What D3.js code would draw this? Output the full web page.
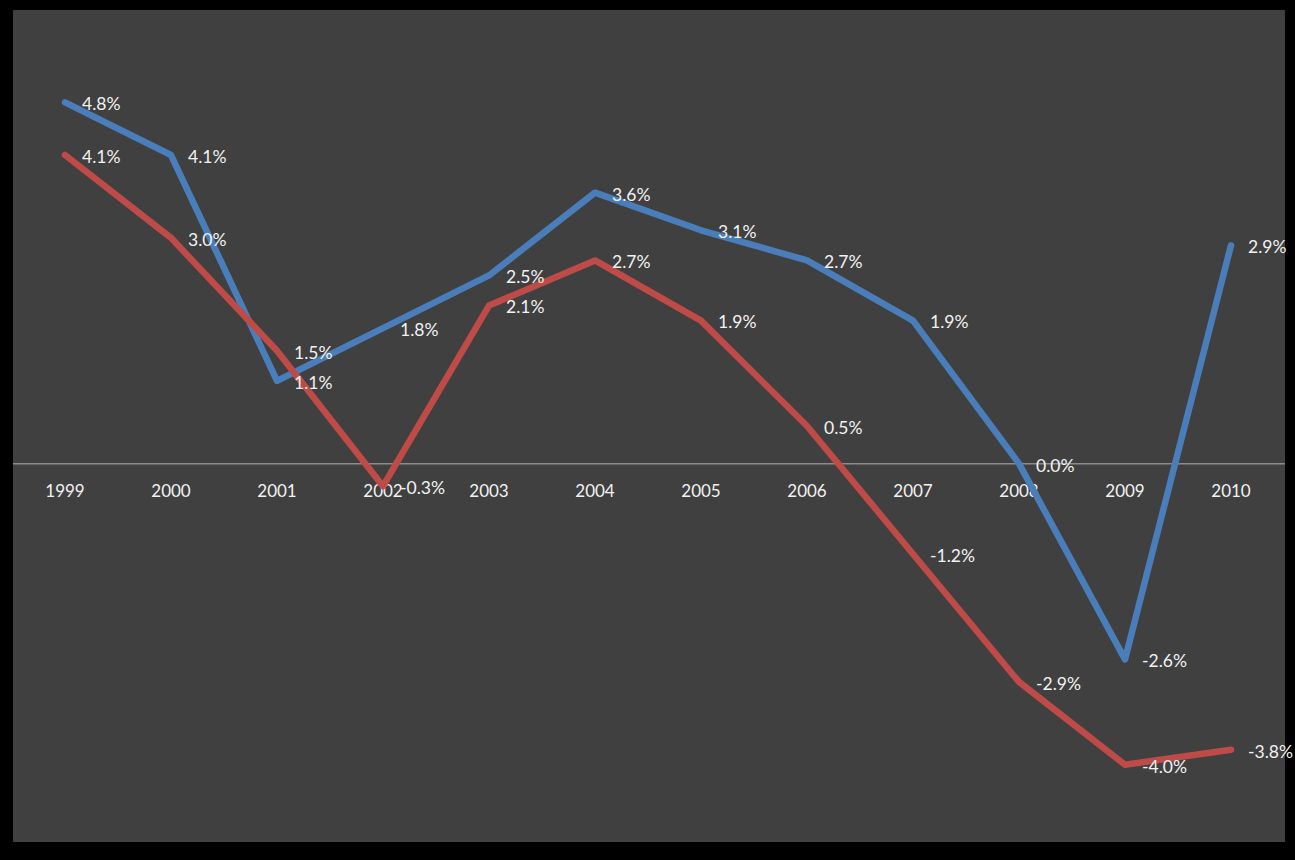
<!DOCTYPE html>
<html>
<head>
<meta charset="utf-8">
<script src="https://cdn.jsdelivr.net/npm/d3@7"></script>
<style>
  html, body { margin: 0; padding: 0; background: #000; }
  svg { display: block; }
</style>
</head>
<body>
<svg id="chart" width="1295" height="860"></svg>
<script>
// Annual growth rates (%) for two series, 1999–2010
const years = ["1999", "2000", "2001", "2002", "2003", "2004", "2005", "2006", "2007", "2008", "2009", "2010"];
const seriesBlue = [4.8, 4.1, 1.1, 1.8, 2.5, 3.6, 3.1, 2.7, 1.9, 0.0, -2.6, 2.9];
const seriesRed = [4.1, 3.0, 1.5, -0.3, 2.1, 2.7, 1.9, 0.5, -1.2, -2.9, -4.0, -3.8];
const yDomain = [-5, 6];

const svg = d3.select("#chart");
const W = 1295, H = 860;

// Chart panel
const panel = { left: 13, top: 10, right: 1285, bottom: 842 };
svg.append("rect").attr("width", W).attr("height", H).attr("fill", "#000");
svg.append("rect")
  .attr("x", panel.left).attr("y", panel.top)
  .attr("width", panel.right - panel.left).attr("height", panel.bottom - panel.top)
  .attr("fill", "#404040");

const x = d3.scaleBand().domain(years).range([12, 1284]);
const y = d3.scaleLinear().domain(yDomain).range([840, 12]);
const cx = d => x(d) + x.bandwidth() / 2;

const font = "Lato, 'Open Sans', sans-serif";
const pct = d => d.toFixed(1) + "%";

// Zero baseline
svg.append("line")
  .attr("x1", panel.left).attr("x2", panel.right)
  .attr("y1", y(0)).attr("y2", y(0))
  .attr("stroke", "#8c8c8c").attr("stroke-width", 1.5);

// Category axis labels along the zero line
const xAxis = d3.axisBottom(x).tickSize(0).tickPadding(0);
const gx = svg.append("g").attr("transform", `translate(0,${y(0)})`).call(xAxis);
gx.select(".domain").remove();
gx.selectAll("text")
  .attr("y", 27).attr("dy", "0.35em")
  .attr("fill", "#f2f2f2")
  .style("font-family", font).style("font-size", "17px");

const line = d3.line().x((d, i) => cx(years[i])).y(d => y(d));

const series = [
  { values: seriesBlue, color: "#4a7ebb" },
  { values: seriesRed, color: "#be4b48" }
];

series.forEach(s => {
  svg.append("path")
    .datum(s.values)
    .attr("d", line)
    .attr("fill", "none")
    .attr("stroke", s.color)
    .attr("stroke-width", 6.5)
    .attr("stroke-linejoin", "round")
    .attr("stroke-linecap", "round");
});

// Data labels to the right of each point
series.forEach(s => {
  svg.append("g").selectAll("text")
    .data(s.values)
    .join("text")
    .attr("x", (d, i) => cx(years[i]) + 17)
    .attr("y", d => y(d))
    .attr("dy", "0.45em")
    .attr("fill", "#f2f2f2")
    .style("font-family", font).style("font-size", "17.5px")
    .text(pct);
});
</script>
</body>
</html>
